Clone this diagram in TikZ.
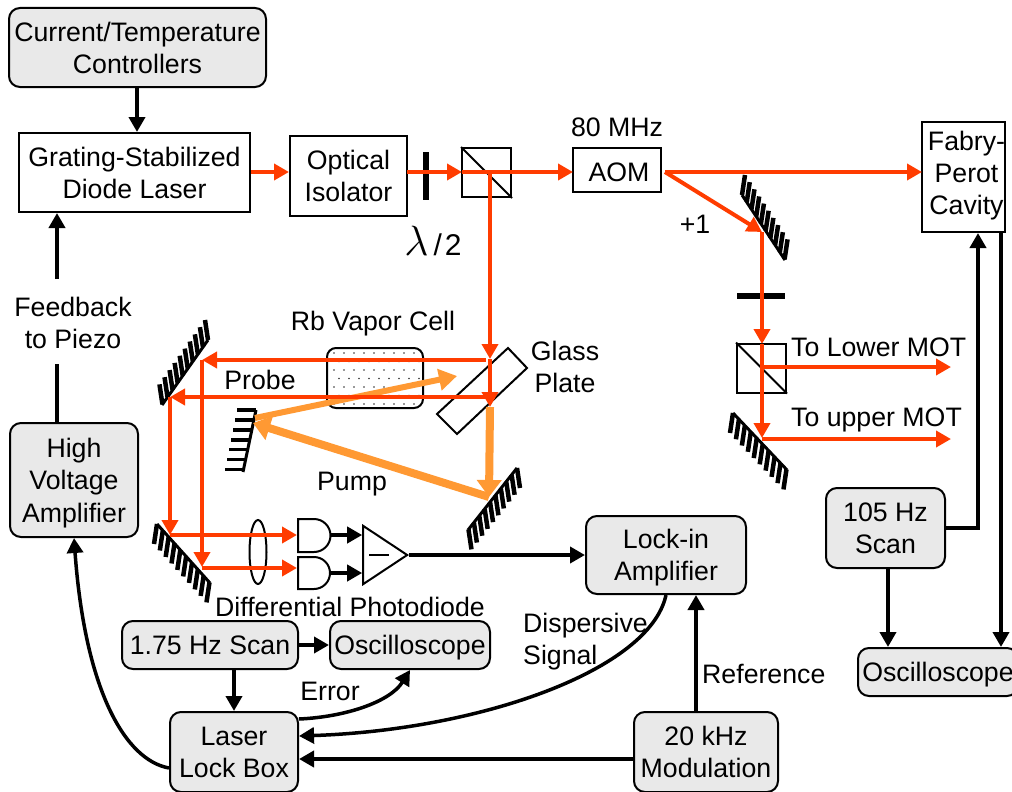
\documentclass[tikz,border=0pt]{standalone}
\usepackage{fontspec}
\setmainfont{Liberation Sans}
\usetikzlibrary{arrows.meta,calc,shapes.geometric}

\definecolor{beamred}{HTML}{FF3C00}
\definecolor{beamorange}{HTML}{FF9933}
\definecolor{boxgray}{HTML}{E9E9E9}

\newcommand{\hatchmirror}[3]{
  \foreach \t in {0,0.11,...,1.01}
    \draw[line width=4.5pt] ($(#1)!\t!(#2)$) -- ++(#3);
  \draw[line width=3pt] (#1) -- (#2);
}

\tikzset{
  lab/.style={font=\fontsize{26.7}{32}\selectfont, align=center, inner sep=0pt},
  plainbox/.style={lab, draw, line width=2pt, fill=white},
  grayblock/.style={lab, draw, line width=2pt, fill=boxgray, rounded corners=11pt},
  redbeam/.style={line width=4pt, draw=beamred, -{Triangle[length=15pt,width=16pt]}},
  pumpbeam/.style={line width=8pt, draw=beamorange, -{Triangle[length=17pt,width=24pt]}},
  blackarrow/.style={line width=4.5pt, -{Triangle[length=15pt,width=16pt]}},
  optic/.style={line width=2pt},
}

\begin{document}
\begin{tikzpicture}[x=1pt, y=-1pt]
    \clip (0,0) rectangle (1012,792);
    \fill[white] (0,0) rectangle (1012,792);

    \node[grayblock, minimum width=257pt, minimum height=79pt] (controllers) at (137.5,47.5) {Current/Temperature\\Controllers};
    \node[plainbox, minimum width=231pt, minimum height=79pt] (laser) at (134.5,172.5) {Grating-Stabilized\\Diode Laser};
    \node[plainbox, minimum width=117pt, minimum height=80pt] (isolator) at (348.5,176) {Optical\\Isolator};
    \node[plainbox, minimum width=88pt, minimum height=44pt, text height=24pt] (aom) at (617,170) {\hspace*{4pt}AOM};
    \node[plainbox, minimum width=83pt, minimum height=110pt] (cavity) at (963.5,177) {\hspace*{6pt}Fabry-\\\hspace*{6pt}Perot\\\hspace*{6pt}Cavity\rule[-9pt]{0pt}{1pt}};
    \node[grayblock, minimum width=128pt, minimum height=114pt, text depth=0pt] (hvamp) at (74,480) {High\\[0.5pt]Voltage\\[0.5pt]Amplifier};
    \node[grayblock, minimum width=160pt, minimum height=78pt, text depth=0pt] (lockin) at (666,555) {Lock-in\\Amplifier};
    \node[grayblock, minimum width=176pt, minimum height=48pt] (slowscan) at (210,645) {1.75 Hz Scan};
    \node[grayblock, minimum width=160pt, minimum height=48pt, text depth=0pt] (scopeleft) at (410,645) {Oscilloscope};
    \node[grayblock, minimum width=128pt, minimum height=80pt] (lockbox) at (234,752) {Laser\\Lock Box};
    \node[grayblock, minimum width=144pt, minimum height=80pt] (modulation) at (706,752) {20 kHz\\Modulation};
    \node[grayblock, minimum width=119pt, minimum height=80pt] (fastscan) at (885.5,528) {105 Hz\\Scan};
    \node[grayblock, minimum width=160pt, minimum height=48pt, text depth=0pt] (scoperight) at (938,672) {Oscilloscope};

    \node[lab] (mhz) at (617,127) {80 MHz};
    \node[lab] (plusone) at (695,224) {+1};
    \node[lab] (halfwave) at (433,241) {\scalebox{1.7}{$\lambda$}\hspace{5pt}{\fontsize{30}{30}\selectfont /\hspace{3pt}2}};
    \node[lab] (cell) at (373,324) {Rb Vapor Cell};
    \node[lab] (glass) at (565,367) {Glass\\Plate};
    \node[lab] (probe) at (260,380) {Probe};
    \node[lab] (pump) at (352,484) {Pump};
    \node[lab] (feedback) at (73,323) {Feedback\\to Piezo};
    \node[lab] (photodiode) at (350,607) {Differential Photodiode};
    \node[lab, align=left, anchor=west] (dispersive) at (523,642) {Dispersive\\Signal};
    \node[lab, anchor=west] (reference) at (702,674) {Reference};
    \node[lab] (errorlab) at (330,691) {Error};
    \node[lab, anchor=west] (lowermot) at (791,347) {To Lower MOT};
    \node[lab, anchor=west] (uppermot) at (791,420) {To upper MOT};

    \node[draw, line width=2pt, rectangle, minimum size=49pt, inner sep=0pt] (cubeA) at (486.5,172.5) {};
    \node[draw, line width=2pt, rectangle, minimum size=49pt, inner sep=0pt] (cubeB) at (761.5,368) {};
    \draw[optic] (cubeA.north west) -- (cubeA.south east);
    \draw[optic] (cubeB.north west) -- (cubeB.south east);

    \draw[optic, rounded corners=9pt] (327,348) rectangle (423,408);
    \foreach \i in {0,...,8}
      \foreach \j in {0,...,6} {
        \fill[black!80] ({334+10*\i+5*mod(\j,2)},{353+8.5*\j}) circle (0.9pt);
      }

    \draw[optic] (508,348) -- (527,368) -- (457,434) -- (437,414) -- cycle;
    \node[draw, line width=2pt, ellipse, minimum width=17pt, minimum height=64pt, inner sep=0pt] (lens) at (258,552) {};

    \draw[line width=6pt] (426,152) -- (426,200);
    \draw[line width=6pt] (737,296) -- (785,296);

    \hatchmirror{208,340}{162,405}{-3,-20}
    \hatchmirror{157,524}{210,583}{-3,20}
    \hatchmirror{517,468}{468,530}{3,20}
    \hatchmirror{742,195}{785,260}{3,-20}
    \hatchmirror{733,413}{787,470}{-3,20}
    \foreach \t in {0,0.16,...,1.01}
      \draw[line width=3.5pt] ($(256,410)!\t!(243,472)$) -- ++(-19,0);
    \draw[line width=3pt] (256,410) -- (243,472);

    \coordinate (plateout) at (490,407);
    \coordinate (pumpturn) at (489,497);
    \coordinate (smallmirror) at (253,423);
    \coordinate (smallout) at (255,418);
    \coordinate (platein) at (457,376);

    \draw[pumpbeam] (plateout) -- (pumpturn);
    \draw[pumpbeam] (pumpturn) -- (smallmirror);
    \draw[pumpbeam, line width=6pt, -{Triangle[length=18pt,width=21pt]}] (smallout) -- (platein);

    \coordinate (isoout) at (407,172);
    \coordinate (cubeAin) at (462,172);
    \coordinate (cubeAc) at (490,172);
    \coordinate (aomin) at (573,172);
    \coordinate (aomout) at (665,172);
    \coordinate (cavityin) at (922,172);
    \coordinate (mirrorhit) at (762,232);
    \coordinate (cubeBin) at (762,344);
    \coordinate (lowerhit) at (762,438);
    \coordinate (lowerout) at (951,367);
    \coordinate (upperout) at (951,439);
    \coordinate (platetop) at (490,359);
    \coordinate (probeA) at (486,360);
    \coordinate (probeB) at (495,397);
    \coordinate (mirrorA) at (202,360);
    \coordinate (mirrorB) at (170,397);
    \coordinate (lowA) at (170,535);
    \coordinate (lowB) at (202,567);
    \coordinate (diodeA) at (297,535);
    \coordinate (diodeB) at (297,568);

    \draw[redbeam] (laser.east |- isoout) -- (isolator.west |- isoout);
    \draw[redbeam] (isoout) -- (cubeAin);
    \draw[redbeam] (cubeAin) -- (aomin);
    \draw[redbeam] (aomout) -- (cavityin);
    \draw[redbeam] (aomout) -- (mirrorhit);
    \draw[redbeam] (mirrorhit) -- (cubeBin);
    \draw[redbeam] (cubeBin) -- (lowerhit);
    \draw[redbeam] (lowerhit |- lowerout) -- (lowerout);
    \draw[redbeam] (lowerhit |- upperout) -- (upperout);
    \draw[redbeam] (cubeAc) -- (platetop);
    \draw[redbeam] (platetop) -- (plateout);
    \draw[redbeam] (probeA) -- (mirrorA);
    \draw[redbeam] (probeB) -- (mirrorB);
    \draw[redbeam] (mirrorB) -- (lowA);
    \draw[redbeam] (mirrorA) -- (lowB);
    \draw[redbeam] (lowA) -- (diodeA);
    \draw[redbeam] (lowB |- diodeB) -- (diodeB);

    \draw[optic] (298,519) -- (314,519) arc (90:-90:16.5pt) -- (298,552) -- cycle;
    \draw[optic] (298,557) -- (314,557) arc (90:-90:16pt) -- (298,589) -- cycle;
    \coordinate (diffA) at (331,535);
    \coordinate (diffB) at (330,573);
    \node[draw, line width=2pt, isosceles triangle, isosceles triangle apex angle=67, minimum height=44pt, inner sep=0pt, anchor=apex] (diffamp) at (409,555) {};
    \draw[line width=2pt] (369,555) -- (389,555);

    \draw[blackarrow] (controllers.south -| 137,0) -- (laser.north -| 137,0);
    \draw[line width=4pt] (57,364) -- (57,423);
    \draw[blackarrow, line width=4pt] (57,279) -- (laser.south -| 57,0);
    \draw[blackarrow] (diffA) -- (diffamp.west |- diffA);
    \draw[blackarrow] (diffB) -- (diffamp.west |- diffB);
    \draw[blackarrow] (diffamp.apex) -- (lockin.west |- diffamp.apex);
    \draw[blackarrow] (slowscan.east) -- (scopeleft.west);
    \draw[blackarrow] (lockbox.north |- slowscan.south) -- (lockbox.north);
    \draw[blackarrow] (modulation.west |- 0,759) -- (lockbox.east |- 0,759);
    \draw[blackarrow] (modulation.north -| 696,0) -- (lockin.south -| 696,0);
    \draw[blackarrow] (fastscan.south -| 888,0) -- (scoperight.north -| 888,0);
    \draw[blackarrow] (cavity.south -| 1001,0) -- (scoperight.north -| 1001,0);
    \draw[blackarrow] (fastscan.east) -- (978,528) -- (cavity.south -| 978,0);
    \draw[blackarrow, line width=3.5pt] (lockbox.west |- 0,768) .. controls (125,760) and (85,690) .. (hvamp.south);
    \draw[blackarrow, line width=3.5pt] (lockbox.east |- 0,719) .. controls (345,717) and (390,702) .. (410,670);
    \draw[blackarrow, line width=3.5pt] (lockin.south -| 666,0) .. controls (650,670) and (480,730) .. (lockbox.east |- 0,736);

  \end{tikzpicture}
\end{document}
